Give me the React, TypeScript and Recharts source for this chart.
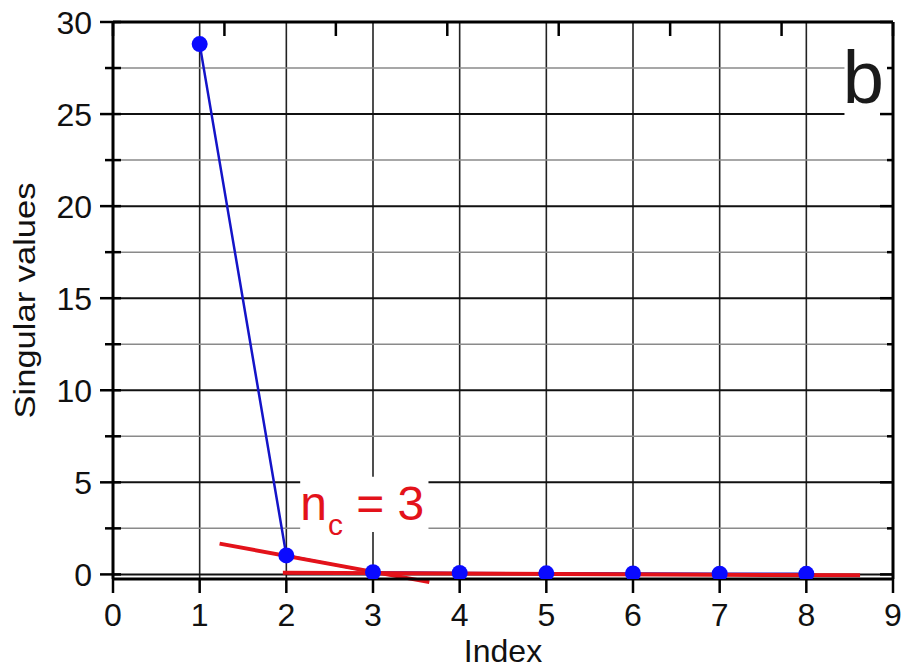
import React from 'react';
import {
  LineChart,
  Line,
  XAxis,
  YAxis,
  CartesianGrid,
  ReferenceLine,
  ReferenceArea,
  ReferenceDot,
} from 'recharts';

// singular value spectrum
const indexValues = [1, 2, 3, 4, 5, 6, 7, 8];
const singularValues = [28.8, 1.03, 0.12, 0.08, 0.06, 0.05, 0.04, 0.03];

const xTicks = [0, 1, 2, 3, 4, 5, 6, 7, 8, 9];
const yTicks = [0, 2.5, 5, 7.5, 10, 12.5, 15, 17.5, 20, 22.5, 25, 27.5, 30];
const yMajor = [0, 5, 10, 15, 20, 25, 30];
const yMinor = [2.5, 7.5, 12.5, 17.5, 22.5, 27.5];
const xGrid = [1, 2, 3, 4, 5, 6, 7, 8];

// two straight fits whose crossing marks the number of components
const steepFit = [{ x: 1.23, y: 1.67 }, { x: 3.65, y: -0.42 }];
const flatFit = [{ x: 1.96, y: 0.09 }, { x: 8.62, y: -0.05 }];

const componentCount = 3;

const FONT = '"Liberation Sans", Arial, sans-serif';
const RED = '#e3121a';

const rows = indexValues.map((idx, i) => ({ idx, sv: singularValues[i] }));

const isMajor = (v: number) => v % 5 === 0;

const LeftTick = ({ x, y, payload }: any) => {
  const major = isMajor(payload.value);
  return (
    <g>
      <line x1={major ? x - 13 : x - 8} x2={x + 8} y1={y} y2={y} stroke="#000" strokeWidth={2.5} />
      {major && (
        <text x={x - 21} y={y} dy="0.36em" textAnchor="end" fontSize={32} fontFamily={FONT} fill="#111">
          {payload.value}
        </text>
      )}
    </g>
  );
};

const RightTick = ({ x, y, payload }: any) => (
  <line x1={isMajor(payload.value) ? x - 13 : x - 6} x2={x} y1={y} y2={y} stroke="#000" strokeWidth={2.5} />
);

const BottomTick = ({ x, y, payload }: any) => (
  <g>
    <line x1={x} x2={x} y1={y} y2={y + 14} stroke="#000" strokeWidth={2.5} />
    <text x={x} y={y + 47} textAnchor="middle" fontSize={32} fontFamily={FONT} fill="#111">
      {payload.value}
    </text>
  </g>
);

const TopTick = ({ x, y }: any) => (
  <line x1={x} x2={x} y1={y} y2={y + 14} stroke="#000" strokeWidth={2.5} />
);

const YTitle = ({ viewBox }: any) => {
  const cy = viewBox.y + viewBox.height / 2;
  return (
    <text
      x={25}
      y={cy}
      transform={`rotate(-90, 25, ${cy})`}
      textAnchor="middle"
      dy="0.35em"
      fontSize={29}
      fontFamily={FONT}
      fill="#111"
      textLength={236}
      lengthAdjust="spacingAndGlyphs"
    >
      Singular values
    </text>
  );
};

const CountLabel = ({ cx, cy }: any) => (
  <text x={cx} y={cy} fontFamily={FONT} fill={RED}>
    <tspan fontSize={48}>n</tspan>
    <tspan fontSize={30} dx={1} dy={15.5}>c</tspan>
    <tspan fontSize={48} dy={-15.5}>{` = ${componentCount}`}</tspan>
  </text>
);

const PanelLabel = ({ cx, cy }: any) => (
  <text x={cx} y={cy} fontSize={74} fontFamily={FONT} fill="#1a1a1a">
    b
  </text>
);

export default function App() {
  return (
    <div style={{ position: 'absolute', left: 0, top: 0, background: '#fff' }}>
      <LineChart width={904} height={669} data={rows} margin={{ top: 0, right: 0, bottom: 0, left: 0 }}>
        <CartesianGrid horizontal={false} verticalValues={xGrid} stroke="#222" strokeWidth={1.6} />
        <CartesianGrid vertical={false} horizontalValues={yMinor} stroke="#8a8a8a" strokeWidth={1.5} />
        <CartesianGrid vertical={false} horizontalValues={yMajor} stroke="#111" strokeWidth={2} />

        <ReferenceArea x1={8.44} x2={9} y1={24} y2={29} fill="#fff" fillOpacity={1} stroke="none" />
        <ReferenceArea x1={2.16} x2={3.64} y1={2.3} y2={5.3} fill="#fff" fillOpacity={1} stroke="none" />

        <XAxis
          dataKey="idx"
          type="number"
          domain={[0, 9]}
          ticks={xTicks}
          interval={0}
          height={90}
          tickSize={0}
          tickMargin={0}
          tickLine={false}
          axisLine={{ stroke: '#000', strokeWidth: 3 }}
          tick={BottomTick}
          label={{ value: 'Index', position: 'insideBottom', offset: 7, fontSize: 32, fontFamily: FONT, fill: '#111' }}
        />
        <XAxis
          xAxisId="top"
          orientation="top"
          type="number"
          domain={[0, 9]}
          ticks={xTicks}
          interval={0}
          height={22}
          tickSize={0}
          tickMargin={0}
          tickLine={false}
          axisLine={{ stroke: '#000', strokeWidth: 3 }}
          tick={TopTick}
        />
        <YAxis
          type="number"
          domain={[-0.25, 30]}
          allowDataOverflow
          ticks={yTicks}
          interval={0}
          width={113}
          tickSize={0}
          tickMargin={0}
          tickLine={false}
          axisLine={{ stroke: '#000', strokeWidth: 3 }}
          tick={LeftTick}
          label={YTitle}
        />
        <YAxis
          yAxisId="right"
          orientation="right"
          type="number"
          domain={[-0.25, 30]}
          allowDataOverflow
          ticks={yTicks}
          interval={0}
          width={11}
          tickSize={0}
          tickMargin={0}
          tickLine={false}
          axisLine={{ stroke: '#000', strokeWidth: 3 }}
          tick={RightTick}
        />

        <Line
          dataKey="sv"
          stroke="#1414c8"
          strokeWidth={2.5}
          dot={{ r: 8, fill: '#0a0aff', stroke: 'none' }}
          isAnimationActive={false}
        />

        <ReferenceLine segment={steepFit} ifOverflow="visible" stroke={RED} strokeWidth={4} />
        <ReferenceLine segment={flatFit} ifOverflow="visible" stroke={RED} strokeWidth={4} />

        <ReferenceDot x={2.16} y={2.96} r={0} ifOverflow="visible" shape={CountLabel} />
        <ReferenceDot x={8.42} y={25.6} r={0} ifOverflow="visible" shape={PanelLabel} />
      </LineChart>
    </div>
  );
}
